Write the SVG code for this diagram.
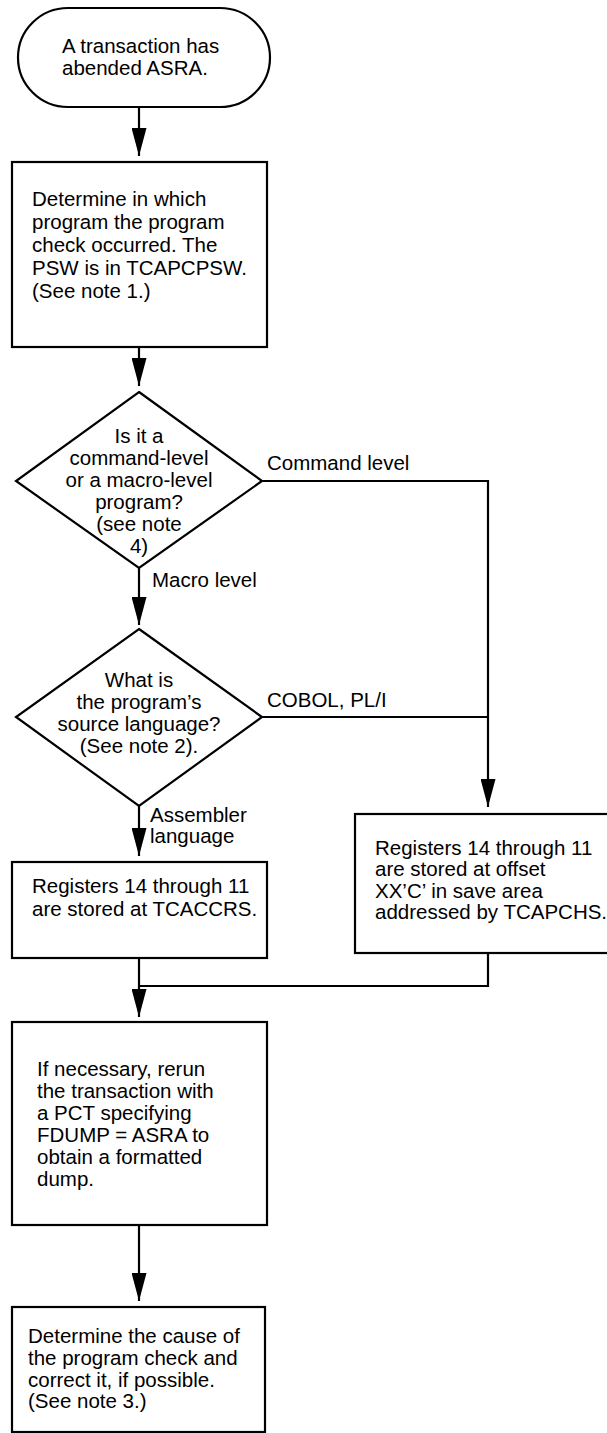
<svg xmlns="http://www.w3.org/2000/svg" width="607" height="1433" viewBox="0 0 607 1433">
  <defs>
    <style>
      .shape { fill: #ffffff; stroke: #000000; stroke-width: 2.2; }
      .conn { fill: none; stroke: #000000; stroke-width: 2.2; }
      text { font-family: "Liberation Sans", Arial, Helvetica, sans-serif; font-size: 20.5px; fill: #000000; }
      .c { text-anchor: middle; }
    </style>
    <marker id="arrow" markerUnits="userSpaceOnUse" markerWidth="28" markerHeight="15" refX="28" refY="7.5" orient="auto">
      <path d="M0,0 L28,7.5 L0,15 Z" fill="#000000"/>
    </marker>
  </defs>

  <rect width="607" height="1433" fill="#ffffff"/>

  <!-- flow lines -->
  <g id="connectors">
    <path class="conn" d="M139,107 V156" marker-end="url(#arrow)"/>
    <path class="conn" d="M139,347 V386" marker-end="url(#arrow)"/>
    <path class="conn" d="M139,568 V625" marker-end="url(#arrow)"/>
    <path class="conn" d="M139,806 V856" marker-end="url(#arrow)"/>
    <path class="conn" d="M262,481 H488 V807" marker-end="url(#arrow)"/>
    <path class="conn" d="M262,717 H488"/>
    <path class="conn" d="M139,958 V1017" marker-end="url(#arrow)"/>
    <path class="conn" d="M488,953 V986 H139"/>
    <path class="conn" d="M139,1225 V1301" marker-end="url(#arrow)"/>
    <text x="267" y="470">Command level</text>
    <text x="152" y="587">Macro level</text>
    <text x="267" y="707">COBOL, PL/I</text>
    <text x="150" y="822">Assembler</text>
    <text x="150" y="843">language</text>
  </g>

  <g id="start">
    <rect class="shape" x="18" y="8" width="252" height="99" rx="50" ry="49.5"/>
    <text x="62" y="53">A transaction has</text>
    <text x="62" y="75">abended ASRA.</text>
  </g>

  <g id="find-program">
    <rect class="shape" x="12" y="162" width="255" height="185"/>
    <text x="32" y="206">Determine in which</text>
    <text x="32" y="229">program the program</text>
    <text x="32" y="252">check occurred. The</text>
    <text x="32" y="275">PSW is in TCAPCPSW.</text>
    <text x="32" y="298">(See note 1.)</text>
  </g>

  <g id="level-decision">
    <polygon class="shape" points="139,392 262,481 139,568 16,481"/>
    <text class="c" x="139" y="443">Is it a</text>
    <text class="c" x="139" y="465">command-level</text>
    <text class="c" x="139" y="487">or a macro-level</text>
    <text class="c" x="139" y="509">program?</text>
    <text class="c" x="139" y="531">(see note</text>
    <text class="c" x="139" y="553">4)</text>
  </g>

  <g id="language-decision">
    <polygon class="shape" points="139,629 262,717 139,806 16,717"/>
    <text class="c" x="139" y="687">What is</text>
    <text class="c" x="139" y="709">the program’s</text>
    <text class="c" x="139" y="731">source language?</text>
    <text class="c" x="139" y="753">(See note 2).</text>
  </g>

  <g id="assembler-regs">
    <rect class="shape" x="12" y="862" width="255" height="96"/>
    <text x="32" y="893">Registers 14 through 11</text>
    <text x="32" y="916">are stored at TCACCRS.</text>
  </g>

  <g id="hll-regs">
    <rect class="shape" x="355" y="814" width="256" height="139"/>
    <text x="375" y="855">Registers 14 through 11</text>
    <text x="375" y="876">are stored at offset</text>
    <text x="375" y="898">XX’C’ in save area</text>
    <text x="375" y="919">addressed by TCAPCHS.</text>
  </g>

  <g id="rerun">
    <rect class="shape" x="12" y="1022" width="255" height="203"/>
    <text x="37" y="1076">If necessary, rerun</text>
    <text x="37" y="1098">the transaction with</text>
    <text x="37" y="1120">a PCT specifying</text>
    <text x="37" y="1142">FDUMP = ASRA to</text>
    <text x="37" y="1164">obtain a formatted</text>
    <text x="37" y="1186">dump.</text>
  </g>

  <g id="find-cause">
    <rect class="shape" x="12" y="1307" width="253" height="125"/>
    <text x="28" y="1343">Determine the cause of</text>
    <text x="28" y="1365">the program check and</text>
    <text x="28" y="1387">correct it, if possible.</text>
    <text x="28" y="1408">(See note 3.)</text>
  </g>
</svg>
